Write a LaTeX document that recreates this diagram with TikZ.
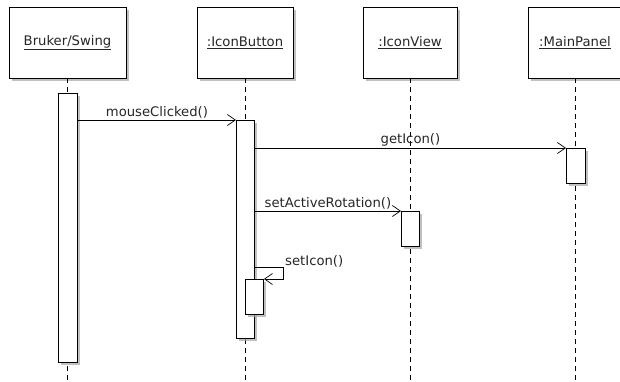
\documentclass[tikz,border=0pt]{standalone}
\usepackage{fontspec}
\setmainfont{DejaVu Sans}
\usetikzlibrary{arrows.meta,shadows}
\begin{document}
\begin{tikzpicture}[x=1pt,y=-1pt,
  every node/.style={font=\fontsize{13.2}{15}\selectfont, text=black!85},
  shd/.style={drop shadow={shadow xshift=3pt,shadow yshift=-3pt,fill=black!35,opacity=0.7}},
  obj/.style={draw, line width=0.9pt, fill=white, minimum height=71pt, inner sep=0pt, shd},
  act/.style={draw, line width=0.9pt, fill=white, minimum width=18pt, inner sep=0pt, anchor=north west, shd},
  life/.style={dash pattern=on 5pt off 4pt, line width=0.9pt},
  msg/.style={line width=0.8pt, -{Straight Barb[length=8pt,width=11pt,line width=0.7pt]}},
  lbl/.style={inner sep=1pt}
]
\useasboundingbox (0,0) rectangle (620,381);
% objects
\node[obj, minimum width=117pt] (b1) at (67.5,42.5) {\underline{Bruker/Swing}};
\node[obj, minimum width=96pt] (b2) at (245,42.5) {\underline{:IconButton}};
\node[obj, minimum width=94pt] (b3) at (410,42.5) {\underline{:IconView}};
\node[obj, minimum width=94pt] (b4) at (575,42.5) {\underline{:MainPanel}};
% lifelines
\draw[life] (b1.south) -- (b1.south |- 0,381);
\draw[life] (b2.south) -- (b2.south |- 0,381);
\draw[life] (b3.south) -- (b3.south |- 0,381);
\draw[life] (b4.south) -- (b4.south |- 0,381);
% activations
\node[act, minimum width=19pt, minimum height=269pt] (a1) at (58,93) {};
\node[act, minimum height=218pt] (a2) at (236,120) {};
\node[act, minimum width=19pt, minimum height=35pt] (a3) at (566,148) {};
\node[act, minimum height=35pt] (a4) at (401,211) {};
\node[act, minimum height=35pt] (a5) at (245,279) {};
% messages
\draw[msg] (a2.north west -| a1.east) -- node[lbl, above] {mouseClicked()} (a2.north west);
\draw[msg] (a3.north west -| a2.east) -- node[lbl, above] {getIcon()} (a3.north west);
\draw[msg] (a4.north west -| a2.east) -- node[lbl, above] {setActiveRotation()} (a4.north west);
\coordinate (s1) at (283,267);
\draw[msg] (a2.east |- s1) -- (s1) |- (a5.north east);
\node[lbl, anchor=south west] (l5) at (284,268) {setIcon()};
\end{tikzpicture}
\end{document}
